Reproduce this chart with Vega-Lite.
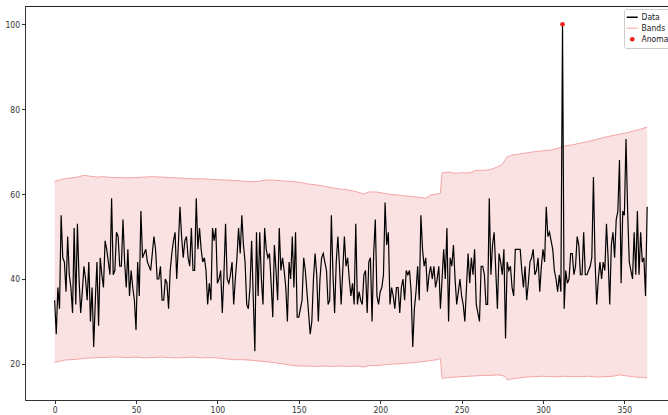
{
  "$schema": "https://vega.github.io/schema/vega-lite/v6.json",
  "autosize": "none",
  "width": 643,
  "height": 394,
  "padding": {"left": 25, "top": 6, "right": 0, "bottom": 15},
  "background": "#ffffff",
  "config": {
    "view": {"stroke": "#222222", "strokeWidth": 1},
    "font": "DejaVu Sans",
    "axis": {
      "domainColor": "#333333", "tickColor": "#333333", "labelColor": "#333333",
      "labelFont": "Liberation Sans Narrow, DejaVu Sans Condensed, DejaVu Sans", "labelFontSize": 8.5, "tickSize": 3.5, "labelPadding": 2,
      "grid": false, "title": null
    }
  },
  "datasets": {
    "d": [
{"x":0,"y":35},{"x":1,"y":27},{"x":2,"y":38},{"x":3,"y":33},{"x":4,"y":55},{"x":5,"y":45},{"x":6,"y":44},{"x":7,"y":37},{"x":8,"y":50},{"x":9,"y":41},
{"x":10,"y":38},{"x":11,"y":32},{"x":12,"y":52},{"x":13,"y":34},{"x":14,"y":53},{"x":15,"y":40},{"x":16,"y":32},{"x":17,"y":37},{"x":18,"y":43},{"x":19,"y":40},
{"x":20,"y":35},{"x":21,"y":44},{"x":22,"y":30},{"x":23,"y":38},{"x":24,"y":24},{"x":25,"y":35},{"x":26,"y":44},{"x":27,"y":29},{"x":28,"y":45},{"x":29,"y":41},
{"x":30,"y":38},{"x":31,"y":49},{"x":32,"y":47},{"x":33,"y":44},{"x":34,"y":41},{"x":35,"y":59},{"x":36,"y":41},{"x":37,"y":42},{"x":38,"y":51},{"x":39,"y":50},
{"x":40,"y":43},{"x":41,"y":43},{"x":42,"y":54},{"x":43,"y":44},{"x":44,"y":38},{"x":45,"y":47},{"x":46,"y":36},{"x":47,"y":42},{"x":48,"y":38},{"x":49,"y":35},
{"x":50,"y":28},{"x":51,"y":44},{"x":52,"y":36},{"x":53,"y":56},{"x":54,"y":45},{"x":55,"y":46},{"x":56,"y":47},{"x":57,"y":44},{"x":58,"y":43},{"x":59,"y":42},
{"x":60,"y":46},{"x":61,"y":50},{"x":62,"y":47},{"x":63,"y":40},{"x":64,"y":40},{"x":65,"y":43},{"x":66,"y":35},{"x":67,"y":35},{"x":68,"y":40},{"x":69,"y":39},
{"x":70,"y":33},{"x":71,"y":42},{"x":72,"y":46},{"x":73,"y":49},{"x":74,"y":51},{"x":75,"y":40},{"x":76,"y":48},{"x":77,"y":57},{"x":78,"y":50},{"x":79,"y":45},
{"x":80,"y":49},{"x":81,"y":50},{"x":82,"y":45},{"x":83,"y":43},{"x":84,"y":52},{"x":85,"y":42},{"x":86,"y":42},{"x":87,"y":59},{"x":88,"y":47},{"x":89,"y":52},
{"x":90,"y":47},{"x":91,"y":44},{"x":92,"y":45},{"x":93,"y":42},{"x":94,"y":34},{"x":95,"y":39},{"x":96,"y":35},{"x":97,"y":52},{"x":98,"y":49},{"x":99,"y":52},
{"x":100,"y":39},{"x":101,"y":40},{"x":102,"y":42},{"x":103,"y":32},{"x":104,"y":41},{"x":105,"y":53},{"x":106,"y":40},{"x":107,"y":39},{"x":108,"y":41},{"x":109,"y":44},
{"x":110,"y":34},{"x":111,"y":40},{"x":112,"y":45},{"x":113,"y":52},{"x":114,"y":46},{"x":115,"y":55},{"x":116,"y":48},{"x":117,"y":44},{"x":118,"y":34},{"x":119,"y":33},
{"x":120,"y":38},{"x":121,"y":49},{"x":122,"y":36},{"x":123,"y":23},{"x":124,"y":51},{"x":125,"y":36},{"x":126,"y":51},{"x":127,"y":40},{"x":128,"y":34},{"x":129,"y":52},
{"x":130,"y":47},{"x":131,"y":45},{"x":132,"y":46},{"x":133,"y":39},{"x":134,"y":31},{"x":135,"y":48},{"x":136,"y":42},{"x":137,"y":35},{"x":138,"y":52},{"x":139,"y":42},
{"x":140,"y":45},{"x":141,"y":42},{"x":142,"y":38},{"x":143,"y":30},{"x":144,"y":44},{"x":145,"y":40},{"x":146,"y":50},{"x":147,"y":38},{"x":148,"y":51},{"x":149,"y":31},
{"x":150,"y":31},{"x":151,"y":33},{"x":152,"y":35},{"x":153,"y":45},{"x":154,"y":42},{"x":155,"y":37},{"x":156,"y":32},{"x":157,"y":27},{"x":158,"y":30},{"x":159,"y":40},
{"x":160,"y":46},{"x":161,"y":41},{"x":162,"y":30},{"x":163,"y":40},{"x":164,"y":45},{"x":165,"y":46},{"x":166,"y":44},{"x":167,"y":42},{"x":168,"y":34},{"x":169,"y":35},
{"x":170,"y":55},{"x":171,"y":41},{"x":172,"y":32},{"x":173,"y":44},{"x":174,"y":50},{"x":175,"y":43},{"x":176,"y":34},{"x":177,"y":42},{"x":178,"y":50},{"x":179,"y":43},
{"x":180,"y":45},{"x":181,"y":40},{"x":182,"y":36},{"x":183,"y":39},{"x":184,"y":34},{"x":185,"y":53},{"x":186,"y":34},{"x":187,"y":37},{"x":188,"y":35},{"x":189,"y":34},
{"x":190,"y":41},{"x":191,"y":42},{"x":192,"y":32},{"x":193,"y":44},{"x":194,"y":45},{"x":195,"y":30},{"x":196,"y":46},{"x":197,"y":54},{"x":198,"y":36},{"x":199,"y":34},
{"x":200,"y":37},{"x":201,"y":38},{"x":202,"y":41},{"x":203,"y":58},{"x":204,"y":48},{"x":205,"y":51},{"x":206,"y":34},{"x":207,"y":38},{"x":208,"y":36},{"x":209,"y":33},
{"x":210,"y":38},{"x":211,"y":38},{"x":212,"y":32},{"x":213,"y":38},{"x":214,"y":40},{"x":215,"y":35},{"x":216,"y":42},{"x":217,"y":41},{"x":218,"y":42},{"x":219,"y":37},
{"x":220,"y":24},{"x":221,"y":33},{"x":222,"y":37},{"x":223,"y":43},{"x":224,"y":35},{"x":225,"y":55},{"x":226,"y":47},{"x":227,"y":43},{"x":228,"y":45},{"x":229,"y":37},
{"x":230,"y":41},{"x":231,"y":43},{"x":232,"y":40},{"x":233,"y":43},{"x":234,"y":38},{"x":235,"y":40},{"x":236,"y":43},{"x":237,"y":33},{"x":238,"y":40},{"x":239,"y":47},
{"x":240,"y":40},{"x":241,"y":52},{"x":242,"y":30},{"x":243,"y":45},{"x":244,"y":43},{"x":245,"y":48},{"x":246,"y":40},{"x":247,"y":34},{"x":248,"y":37},{"x":249,"y":40},
{"x":250,"y":36},{"x":251,"y":34},{"x":252,"y":30},{"x":253,"y":38},{"x":254,"y":46},{"x":255,"y":39},{"x":256,"y":45},{"x":257,"y":41},{"x":258,"y":47},{"x":259,"y":34},
{"x":260,"y":32},{"x":261,"y":30},{"x":262,"y":43},{"x":263,"y":43},{"x":264,"y":41},{"x":265,"y":34},{"x":266,"y":34},{"x":267,"y":59},{"x":268,"y":41},{"x":269,"y":48},
{"x":270,"y":51},{"x":271,"y":42},{"x":272,"y":33},{"x":273,"y":46},{"x":274,"y":44},{"x":275,"y":41},{"x":276,"y":47},{"x":277,"y":26},{"x":278,"y":44},{"x":279,"y":42},
{"x":280,"y":43},{"x":281,"y":38},{"x":282,"y":36},{"x":283,"y":47},{"x":284,"y":47},{"x":285,"y":47},{"x":286,"y":47},{"x":287,"y":42},{"x":288,"y":38},{"x":289,"y":43},
{"x":290,"y":35},{"x":291,"y":39},{"x":292,"y":44},{"x":293,"y":45},{"x":294,"y":47},{"x":295,"y":41},{"x":296,"y":42},{"x":297,"y":45},{"x":298,"y":37},{"x":299,"y":43},
{"x":300,"y":47},{"x":301,"y":44},{"x":302,"y":57},{"x":303,"y":50},{"x":304,"y":51},{"x":305,"y":49},{"x":306,"y":47},{"x":307,"y":42},{"x":308,"y":40},{"x":309,"y":37},
{"x":310,"y":41},{"x":311,"y":37},{"x":312,"y":100},{"x":313,"y":33},{"x":314,"y":42},{"x":315,"y":39},{"x":316,"y":40},{"x":317,"y":46},{"x":318,"y":46},{"x":319,"y":41},
{"x":320,"y":43},{"x":321,"y":50},{"x":322,"y":48},{"x":323,"y":41},{"x":324,"y":41},{"x":325,"y":51},{"x":326,"y":41},{"x":327,"y":41},{"x":328,"y":42},{"x":329,"y":43},
{"x":330,"y":45},{"x":331,"y":64},{"x":332,"y":44},{"x":333,"y":34},{"x":334,"y":40},{"x":335,"y":44},{"x":336,"y":40},{"x":337,"y":44},{"x":338,"y":42},{"x":339,"y":53},
{"x":340,"y":45},{"x":341,"y":34},{"x":342,"y":48},{"x":343,"y":51},{"x":344,"y":45},{"x":345,"y":54},{"x":346,"y":56},{"x":347,"y":68},{"x":348,"y":39},{"x":349,"y":56},
{"x":350,"y":55},{"x":351,"y":73},{"x":352,"y":56},{"x":353,"y":44},{"x":354,"y":42},{"x":355,"y":40},{"x":356,"y":51},{"x":357,"y":41},{"x":358,"y":56},{"x":359,"y":41},
{"x":360,"y":51},{"x":361,"y":44},{"x":362,"y":45},{"x":363,"y":36},{"x":364,"y":57}
    ],
    "band": [
{"x":0,"hi":63.0,"lo":20.4},{"x":3,"hi":63.3,"lo":20.6},{"x":6,"hi":63.6,"lo":20.9},{"x":10,"hi":63.8,"lo":21.0},{"x":14,"hi":64.0,"lo":21.1},
{"x":18,"hi":64.4,"lo":21.3},{"x":22,"hi":64.2,"lo":21.4},{"x":26,"hi":64.0,"lo":21.5},{"x":30,"hi":64.1,"lo":21.5},{"x":35,"hi":63.9,"lo":21.6},
{"x":40,"hi":63.9,"lo":21.6},{"x":45,"hi":63.8,"lo":21.5},{"x":50,"hi":63.9,"lo":21.6},{"x":55,"hi":64.0,"lo":21.4},{"x":60,"hi":64.1,"lo":21.5},
{"x":65,"hi":64.0,"lo":21.6},{"x":70,"hi":63.9,"lo":21.5},{"x":75,"hi":63.8,"lo":21.4},{"x":80,"hi":63.7,"lo":21.5},{"x":85,"hi":63.6,"lo":21.6},
{"x":90,"hi":63.6,"lo":21.4},{"x":95,"hi":63.5,"lo":21.5},{"x":100,"hi":63.4,"lo":21.4},{"x":105,"hi":63.3,"lo":21.2},{"x":110,"hi":63.2,"lo":21.0},
{"x":115,"hi":63.1,"lo":21.0},{"x":120,"hi":62.9,"lo":20.9},{"x":125,"hi":63.0,"lo":20.7},{"x":130,"hi":63.3,"lo":20.5},{"x":135,"hi":63.3,"lo":20.3},
{"x":140,"hi":63.1,"lo":20.0},{"x":145,"hi":63.0,"lo":19.7},{"x":150,"hi":62.8,"lo":19.5},{"x":155,"hi":62.4,"lo":19.5},{"x":160,"hi":62.2,"lo":19.4},
{"x":165,"hi":61.9,"lo":19.5},{"x":170,"hi":61.5,"lo":19.4},{"x":175,"hi":61.2,"lo":19.5},{"x":180,"hi":61.0,"lo":19.4},{"x":185,"hi":60.6,"lo":19.5},
{"x":190,"hi":60.0,"lo":19.3},{"x":193,"hi":60.5,"lo":19.6},{"x":197,"hi":60.5,"lo":19.6},{"x":201,"hi":60.3,"lo":19.7},{"x":205,"hi":60.0,"lo":19.9},
{"x":210,"hi":59.8,"lo":20.0},{"x":215,"hi":59.6,"lo":20.1},{"x":220,"hi":59.4,"lo":20.3},{"x":225,"hi":59.2,"lo":20.5},{"x":228,"hi":59.0,"lo":20.6},
{"x":231,"hi":59.8,"lo":20.8},{"x":235,"hi":60.0,"lo":21.0},{"x":237,"hi":60.2,"lo":21.3},{"x":238,"hi":65.0,"lo":16.6},{"x":242,"hi":65.2,"lo":16.8},
{"x":246,"hi":64.9,"lo":16.9},{"x":250,"hi":65.0,"lo":17.0},{"x":255,"hi":65.0,"lo":17.1},{"x":259,"hi":65.6,"lo":17.2},{"x":264,"hi":65.6,"lo":17.3},
{"x":268,"hi":65.8,"lo":17.3},{"x":272,"hi":66.4,"lo":17.4},{"x":275,"hi":67.0,"lo":17.3},{"x":277,"hi":68.2,"lo":16.9},{"x":278,"hi":68.8,"lo":16.2},
{"x":281,"hi":69.2,"lo":16.5},{"x":285,"hi":69.4,"lo":16.7},{"x":290,"hi":69.7,"lo":16.9},{"x":295,"hi":70.0,"lo":17.0},{"x":300,"hi":70.2,"lo":17.1},
{"x":305,"hi":70.4,"lo":17.0},{"x":310,"hi":70.9,"lo":17.0},{"x":313,"hi":71.3,"lo":17.1},{"x":318,"hi":71.6,"lo":17.0},{"x":323,"hi":72.0,"lo":17.0},
{"x":328,"hi":72.4,"lo":17.1},{"x":333,"hi":72.9,"lo":16.9},{"x":338,"hi":73.4,"lo":17.0},{"x":343,"hi":73.8,"lo":17.1},{"x":347,"hi":74.1,"lo":17.4},
{"x":351,"hi":74.4,"lo":17.2},{"x":355,"hi":74.8,"lo":17.0},{"x":360,"hi":75.3,"lo":16.8},{"x":364,"hi":75.8,"lo":16.7}
    ],
    "anom": [{"x":312,"y":100}]
  },
  "encoding": {
    "x": {
      "field": "x", "type": "quantitative",
      "scale": {"domain": [-18.2, 376.8], "nice": false, "zero": false},
      "axis": {"values": [0, 50, 100, 150, 200, 250, 300, 350], "labelFlush": false}
    }
  },
  "layer": [
    {
      "data": {"name": "band"},
      "mark": {"type": "area", "color": "#fbe2e2", "opacity": 1},
      "encoding": {
        "y": {"field": "hi", "type": "quantitative",
          "scale": {"domain": [11.5, 104.3], "nice": false, "zero": false},
          "axis": {"values": [20, 40, 60, 80, 100]}},
        "y2": {"field": "lo"}
      }
    },
    {
      "data": {"name": "band"},
      "mark": {"type": "line", "strokeWidth": 1},
      "encoding": {
        "y": {"field": "hi", "type": "quantitative"},
        "color": {
          "datum": "Bands",
          "scale": {"domain": ["Data", "Bands", "Anomalies"], "range": ["#000000", "#f4a5a5", "#e8241c"]},
          "legend": {
            "title": null, "orient": "none", "legendX": 599, "legendY": 3,
            "fillColor": "#ffffff", "strokeColor": "#cccccc", "cornerRadius": 2, "padding": 4,
            "labelFont": "Liberation Sans Narrow, DejaVu Sans Condensed, DejaVu Sans", "labelFontSize": 8.5, "labelColor": "#222222", "labelOffset": 5,
            "rowPadding": 2, "symbolSize": 121,
            "encode": {
              "symbols": {
                "update": {
                  "shape": {"signal": "datum.value === 'Anomalies' ? 'circle' : 'stroke'"},
                  "size": {"signal": "datum.value === 'Anomalies' ? 22 : 121"},
                  "fill": {"signal": "datum.value === 'Anomalies' ? '#e8241c' : 'transparent'"},
                  "stroke": {"signal": "datum.value === 'Anomalies' ? '#e8241c' : (datum.value === 'Data' ? '#000000' : '#f4a5a5')"},
                  "strokeWidth": {"signal": "datum.value === 'Data' ? 1.5 : (datum.value === 'Anomalies' ? 0 : 1)"},
                  "opacity": {"value": 1}
                }
              }
            }
          }
        }
      }
    },
    {
      "data": {"name": "band"},
      "mark": {"type": "line", "strokeWidth": 1},
      "encoding": {
        "y": {"field": "lo", "type": "quantitative"},
        "color": {"datum": "Bands"}
      }
    },
    {
      "data": {"name": "d"},
      "mark": {"type": "line", "strokeWidth": 1.2},
      "encoding": {
        "y": {"field": "y", "type": "quantitative"},
        "color": {"datum": "Data"}
      }
    },
    {
      "data": {"name": "anom"},
      "mark": {"type": "point", "filled": true, "opacity": 1, "size": 22},
      "encoding": {
        "y": {"field": "y", "type": "quantitative"},
        "color": {"datum": "Anomalies"}
      }
    }
  ]
}
